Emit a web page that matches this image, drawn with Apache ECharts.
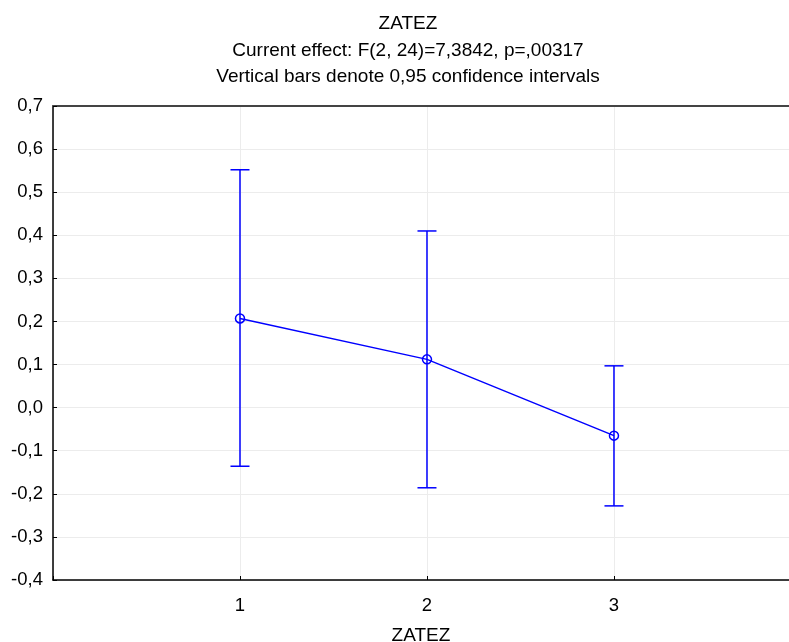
<!DOCTYPE html>
<html><head><meta charset="utf-8">
<script src="https://cdn.jsdelivr.net/npm/echarts@6/dist/echarts.min.js"></script>
<style>html,body{margin:0;padding:0;background:#fff}#c{width:789px;height:642px}</style>
</head><body><div id="c"></div>
<script>
const categories = [1, 2, 3];
const means = [0.207, 0.112, -0.065];
const lower = [-0.136, -0.186, -0.228];
const upper = [0.552, 0.410, 0.097];
const yTicks = [-0.4, -0.3, -0.2, -0.1, 0.0, 0.1, 0.2, 0.3, 0.4, 0.5, 0.6, 0.7];
const titleLines = ['ZATEZ', 'Current effect: F(2, 24)=7,3842, p=,00317', 'Vertical bars denote 0,95 confidence intervals'];

const FONT = '"Liberation Sans", Arial, sans-serif';
const fmt = v => (Math.round(v * 10) / 10).toFixed(1).replace('.', ',');

const chart = echarts.init(document.getElementById('c'));
chart.setOption({
  animation: false,
  backgroundColor: '#fff',
  graphic: titleLines.map((t, i) => ({
    type: 'text', x: 408, y: 24 + i * 26.3,
    style: { text: t, fontFamily: FONT, fontSize: 19, fill: '#000', align: 'center', verticalAlign: 'middle' }
  })),
  grid: { left: 53, right: 0, top: 106, bottom: 62, containLabel: false, outerBoundsMode: 'none' },
  xAxis: [{
    type: 'value', min: 0, max: 3.936, interval: 1,
    name: 'ZATEZ', nameLocation: 'middle', nameGap: 46,
    nameTextStyle: { fontFamily: FONT, fontSize: 19, color: '#000' },
    axisLine: { show: true, onZero: false, lineStyle: { color: '#000', width: 1.5 } },
    axisTick: { show: true, inside: true, length: 4, lineStyle: { color: '#000' } },
    axisLabel: { fontFamily: FONT, fontSize: 18.5, color: '#000', margin: 16, showMaxLabel: false,
      formatter: v => categories.includes(v) ? String(v) : '' },
    splitLine: { show: true, lineStyle: { color: '#ececec' } }
  }, {
    type: 'value', min: 0, max: 3.936, position: 'top',
    axisLine: { show: true, onZero: false, lineStyle: { color: '#444', width: 2 } },
    axisTick: { show: false }, axisLabel: { show: false }, splitLine: { show: false }
  }],
  yAxis: {
    type: 'value', min: yTicks[0], max: yTicks[yTicks.length - 1], interval: 0.1,
    axisLine: { show: true, onZero: false, lineStyle: { color: '#000', width: 1.5 } },
    axisTick: { show: true, inside: true, length: 4, lineStyle: { color: '#000' } },
    axisLabel: { fontFamily: FONT, fontSize: 18.5, color: '#000', margin: 10, formatter: fmt },
    splitLine: { show: true, lineStyle: { color: '#ececec' } }
  },
  series: [{
    type: 'custom',
    data: categories.map((c, i) => [c, lower[i], upper[i]]),
    renderItem: (params, api) => {
      const x = api.value(0);
      const lo = api.coord([x, api.value(1)]);
      const hi = api.coord([x, api.value(2)]);
      const hw = 9.5;
      const st = { stroke: '#0000ff', lineWidth: 1.5 };
      return { type: 'group', children: [
        { type: 'line', shape: { x1: lo[0], y1: lo[1], x2: hi[0], y2: hi[1] }, style: st },
        { type: 'line', shape: { x1: lo[0] - hw, y1: lo[1], x2: lo[0] + hw, y2: lo[1] }, style: st },
        { type: 'line', shape: { x1: hi[0] - hw, y1: hi[1], x2: hi[0] + hw, y2: hi[1] }, style: st }
      ]};
    },
    z: 2
  }, {
    type: 'line',
    data: categories.map((c, i) => [c, means[i]]),
    symbol: 'circle', symbolSize: 9,
    itemStyle: { color: 'rgba(255,255,255,0)', borderColor: '#0000ff', borderWidth: 1.5 },
    lineStyle: { color: '#0000ff', width: 1.5 },
    z: 3
  }]
});
</script></body></html>
